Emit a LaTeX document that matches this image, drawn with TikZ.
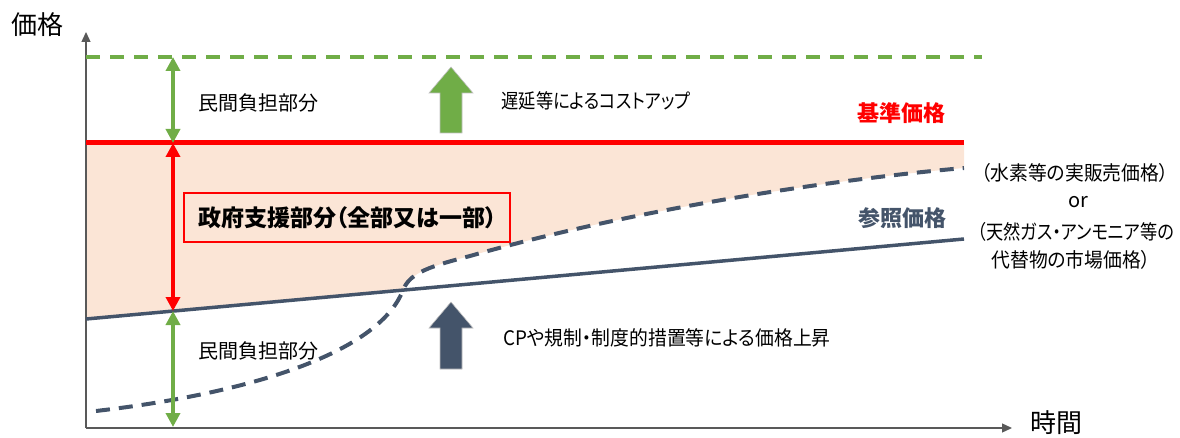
\documentclass[tikz,border=0pt]{standalone}
\usepackage{fontspec}
\setmainfont[RawFeature={+palt}]{Noto Sans CJK JP}
\newfontfamily\jpnarrow[RawFeature={+palt}, FakeStretch=0.86]{Noto Sans CJK JP}
\newfontfamily\jpsemi[RawFeature={+palt}, FakeStretch=0.94]{Noto Sans CJK JP}
\usetikzlibrary{arrows.meta}
\definecolor{pgreen}{HTML}{70AD47}
\definecolor{pred}{HTML}{FF0000}
\definecolor{pslate}{HTML}{44546A}
\definecolor{ppeach}{HTML}{FBE5D6}
\begin{document}
\begin{tikzpicture}[x=1pt,y=-1pt,
  txt/.style={inner sep=0pt, font=\fontsize{20}{24}\selectfont},
  ntxt/.style={inner sep=0pt, font=\fontsize{20}{24}\jpnarrow},
  stxt/.style={inner sep=0pt, font=\fontsize{20}{24}\jpsemi},
  btxt/.style={inner sep=0pt, font=\fontsize{22}{26}\selectfont\bfseries},
  bigtxt/.style={inner sep=0pt, font=\fontsize{26}{30}\selectfont},
  axisline/.style={line width=1.3pt, draw=black!65, -{Triangle[width=9pt,length=10pt]}},
  dimarrow/.style={line width=3.5pt, {Triangle[width=14pt,length=14pt]}-{Triangle[width=14pt,length=14pt]}},
  blockarrow/.style={draw=black!25, line width=0.6pt}
]
\useasboundingbox (0,0) rectangle (1180,438);
% key coordinates
\coordinate (O) at (86,428);
\coordinate (Ytip) at (86,32);
\coordinate (Xtip) at (1012,428);
\coordinate (gL) at (86,57);
\coordinate (gR) at (982,57);
\coordinate (rL) at (86,143);
\coordinate (rR) at (964,143);
\coordinate (sL) at (86,319);
\coordinate (sR) at (964,239);
\coordinate (C) at (403,290.1);
\coordinate (dS) at (96,411);
\coordinate (dE) at (964,168);
% shaded government support area
\fill[ppeach] (rL) -- (rR) -- (dE) .. controls (850,178) and (650,205) .. (470,256)
  .. controls (432,266) and (410,272) .. (C) -- (sL) -- cycle;
% axes
\draw[axisline] (O) -- (Ytip);
\draw[axisline] (O) -- (Xtip);
% lines
\draw[pgreen, line width=4pt, dash pattern=on 14pt off 10pt] (gL) -- (gR);
\draw[pred, line width=5pt] (rL) -- (rR);
\draw[pslate, line width=3.5pt] (sL) -- (sR);
\draw[pslate, line width=4pt, dash pattern=on 14pt off 9pt] (dS) .. controls (260,392) and (380,350) .. (C)
  .. controls (410,272) and (432,266) .. (470,256) .. controls (650,205) and (850,178) .. (dE);
% dimension arrows
\coordinate (a1) at (173,57);
\coordinate (a2) at (173,143);
\coordinate (a3) at (173,311);
\coordinate (a4) at (173,427);
\draw[dimarrow, pgreen] (a1) -- (a2);
\draw[dimarrow, pred] (a2) -- (a3);
\draw[dimarrow, pgreen] (a3) -- (a4);
% block arrows
\fill[pgreen, blockarrow] (451,67) -- (473,93) -- (462,93) -- (462,133) -- (440,133) -- (440,93) -- (429,93) -- cycle;
\fill[pslate, blockarrow] (451,302) -- (473,328) -- (462,328) -- (462,369) -- (440,369) -- (440,328) -- (429,328) -- cycle;
% texts
\node[bigtxt] (kakaku) at (37,25) {価格};
\node[bigtxt] (jikan) at (1056,423) {時間};
\node[txt] (min1) at (258,103) {民間負担部分};
\node[txt] (min2) at (258,351) {民間負担部分};
\node[ntxt] (delay) at (596,101) {遅延等によるコストアップ};
\node[stxt] (cp) at (667,338) {CPや規制・制度的措置等による価格上昇};
\node[btxt, text=pred] (kijun) at (901,113) {基準価格};
\node[btxt, text=pslate] (sansho) at (902,218) {参照価格};
\node[draw=pred, line width=1.8pt, fill=ppeach, minimum height=49pt, text width=298pt,
  inner xsep=14pt, inner ysep=0pt, align=left, font=\fontsize{23}{27}\selectfont\bfseries] (gov) at (347,217.5)
  {政府支援部分（全部又は一部）};
\node[stxt] (r1) at (1075,173) {（水素等の実販売価格）};
\node[txt] (r2) at (1078,202) {or};
\node[ntxt] (r3) at (1076,232) {（天然ガス・アンモニア等の};
\node[stxt] (r4) at (1071,260) {代替物の市場価格）};
\end{tikzpicture}
\end{document}
